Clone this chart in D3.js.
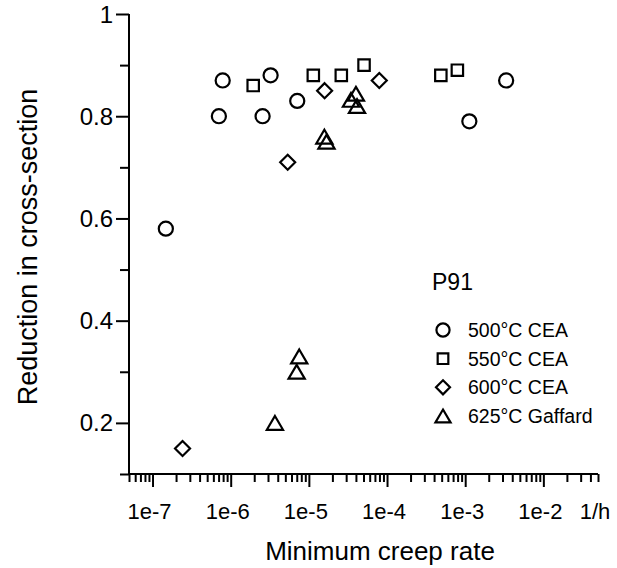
<!DOCTYPE html>
<html>
<head>
<meta charset="utf-8">
<script src="https://cdn.jsdelivr.net/npm/d3@7"></script>
<style>
  html, body { margin: 0; padding: 0; background: #fff; }
  svg { display: block; font-family: Arial, "Liberation Sans", sans-serif; }
</style>
</head>
<body>
<svg id="chart" width="617" height="568"></svg>
<script>
// Minimum creep rate (1/h) and reduction in cross-section for P91 steel
const series = ["500°C CEA", "550°C CEA", "600°C CEA", "625°C Gaffard"];
const shapes = ["circle", "square", "diamond", "triangle"];

const rate500 = [1.48e-7, 7.06e-7, 7.9e-7, 2.56e-6, 3.24e-6, 7.1e-6, 1.13e-3, 3.34e-3];
const red500  = [0.58,    0.80,    0.87,   0.80,    0.88,    0.83,   0.79,    0.87];

const rate550 = [1.94e-6, 1.14e-5, 2.6e-5, 5.08e-5, 4.88e-4, 7.94e-4];
const red550  = [0.86,    0.88,    0.88,   0.90,    0.88,    0.89];

const rate600 = [2.42e-7, 5.36e-6, 1.59e-5, 7.96e-5];
const red600  = [0.15,    0.71,    0.85,    0.87];

const rate625 = [3.68e-6, 6.98e-6, 7.53e-6, 1.58e-5, 1.68e-5, 3.46e-5, 4.0e-5, 4.13e-5];
const red625  = [0.20,    0.30,    0.33,    0.76,    0.75,    0.832,   0.844,  0.82];

const xTickLabels = ["1e-7", "1e-6", "1e-5", "1e-4", "1e-3", "1e-2", "1/h"];
const xTickValues = [1e-7, 1e-6, 1e-5, 1e-4, 1e-3, 1e-2, 5e-2];
const yTickValues = [0.2, 0.4, 0.6, 0.8, 1];
const yTickLabels = ["0.2", "0.4", "0.6", "0.8", "1"];

const rates = [rate500, rate550, rate600, rate625];
const reductions = [red500, red550, red600, red625];

const svg = d3.select("#chart");

const x = d3.scaleLog().domain([5e-8, 5e-2]).range([129, 598]);
const y = d3.scaleLinear().domain([0.1, 1]).range([474, 14]);

// marker outlines, centred on the bounding box
function markerPath(shape, s) {
  const p = d3.path();
  if (shape === "circle") {
    p.arc(0, 0, s * 0.47, 0, 2 * Math.PI);
  } else if (shape === "square") {
    const h = s * 0.38;
    p.rect(-h, -h, 2 * h, 2 * h);
  } else if (shape === "diamond") {
    const h = s * 0.5;
    p.moveTo(0, -h); p.lineTo(h, 0); p.lineTo(0, h); p.lineTo(-h, 0); p.closePath();
  } else {
    const w = s * 0.54, h = s * 0.46;
    p.moveTo(0, -h); p.lineTo(w, h); p.lineTo(-w, h); p.closePath();
  }
  return p.toString();
}

// minor ticks for the log axis: 2..9 in every decade
const xMinor = [];
for (let e = -8; e <= -2; e++) {
  for (let m = 2; m <= 9; m++) {
    const v = m * Math.pow(10, e);
    if (v >= 5e-8 && v <= 5e-2 && !(m === 5 && e === -2)) xMinor.push(v);
  }
}
const yMinor = [0.1, 0.3, 0.5, 0.7, 0.9];

const axisColor = "#000";

// x axis
const xAxisMajor = d3.axisBottom(x).tickValues(xTickValues.slice(0, 6)).tickSize(13).tickFormat("");
const xAxisMinor = d3.axisBottom(x).tickValues(xMinor.concat([5e-2])).tickSize(8).tickFormat("");
const gx = svg.append("g").attr("transform", "translate(0,474)");
gx.append("g").call(xAxisMinor);
gx.append("g").call(xAxisMajor);
gx.selectAll(".domain").attr("d", `M${x.range()[0] - 1},0H${x.range()[1]}`);
gx.selectAll("line, path").attr("stroke", axisColor).attr("stroke-width", 2);

svg.append("g").selectAll("text")
  .data(xTickValues)
  .join("text")
  .attr("x", (d) => x(d) - 3)
  .attr("y", 519)
  .attr("text-anchor", "middle")
  .attr("font-size", 22)
  .attr("fill", "#000")
  .text((d, i) => xTickLabels[i]);

// y axis
const yAxisMajor = d3.axisLeft(y).tickValues(yTickValues).tickSize(13).tickFormat("");
const yAxisMinor = d3.axisLeft(y).tickValues(yMinor).tickSize(9).tickFormat("");
const gy = svg.append("g").attr("transform", "translate(129,0)");
gy.append("g").call(yAxisMinor);
gy.append("g").call(yAxisMajor);
gy.selectAll(".domain").attr("d", `M0,${y.range()[1]}V${y.range()[0] + 1}`);
gy.selectAll("line, path").attr("stroke", axisColor).attr("stroke-width", 2);

svg.append("g").selectAll("text")
  .data(yTickValues)
  .join("text")
  .attr("x", 113)
  .attr("y", (d) => y(d) + 8.5)
  .attr("text-anchor", "end")
  .attr("font-size", 24)
  .attr("fill", "#000")
  .text((d, i) => yTickLabels[i]);

// axis titles
svg.append("text")
  .attr("x", 380)
  .attr("y", 560)
  .attr("text-anchor", "middle")
  .attr("font-size", 26)
  .attr("fill", "#000")
  .text("Minimum creep rate");

svg.append("text")
  .attr("transform", "translate(37,247) rotate(-90)")
  .attr("text-anchor", "middle")
  .attr("font-size", 27)
  .attr("fill", "#000")
  .text("Reduction in cross-section");

// data markers
series.forEach((name, k) => {
  const pts = rates[k].map((r, i) => [r, reductions[k][i]]);
  svg.append("g")
    .selectAll("path")
    .data(pts)
    .join("path")
    .attr("transform", (d) => `translate(${x(d[0])},${y(d[1])})`)
    .attr("d", markerPath(shapes[k], 15))
    .attr("fill", "none")
    .attr("stroke", "#000")
    .attr("stroke-width", 2.2);
});

// legend
const legend = svg.append("g");
legend.append("text")
  .attr("x", 432)
  .attr("y", 290)
  .attr("font-size", 23)
  .attr("fill", "#000")
  .text("P91");

const rowY = d3.scalePoint().domain(series).range([330, 416]);
const rows = legend.selectAll("g.row")
  .data(series)
  .join("g")
  .attr("class", "row")
  .attr("transform", (d) => `translate(443,${rowY(d)})`);
rows.append("path")
  .attr("d", (d, i) => markerPath(shapes[i], 14))
  .attr("fill", "none")
  .attr("stroke", "#000")
  .attr("stroke-width", 2.2);
rows.append("text")
  .attr("x", 25)
  .attr("y", 7)
  .attr("font-size", 19.5)
  .attr("fill", "#000")
  .text((d) => d);
</script>
</body>
</html>
